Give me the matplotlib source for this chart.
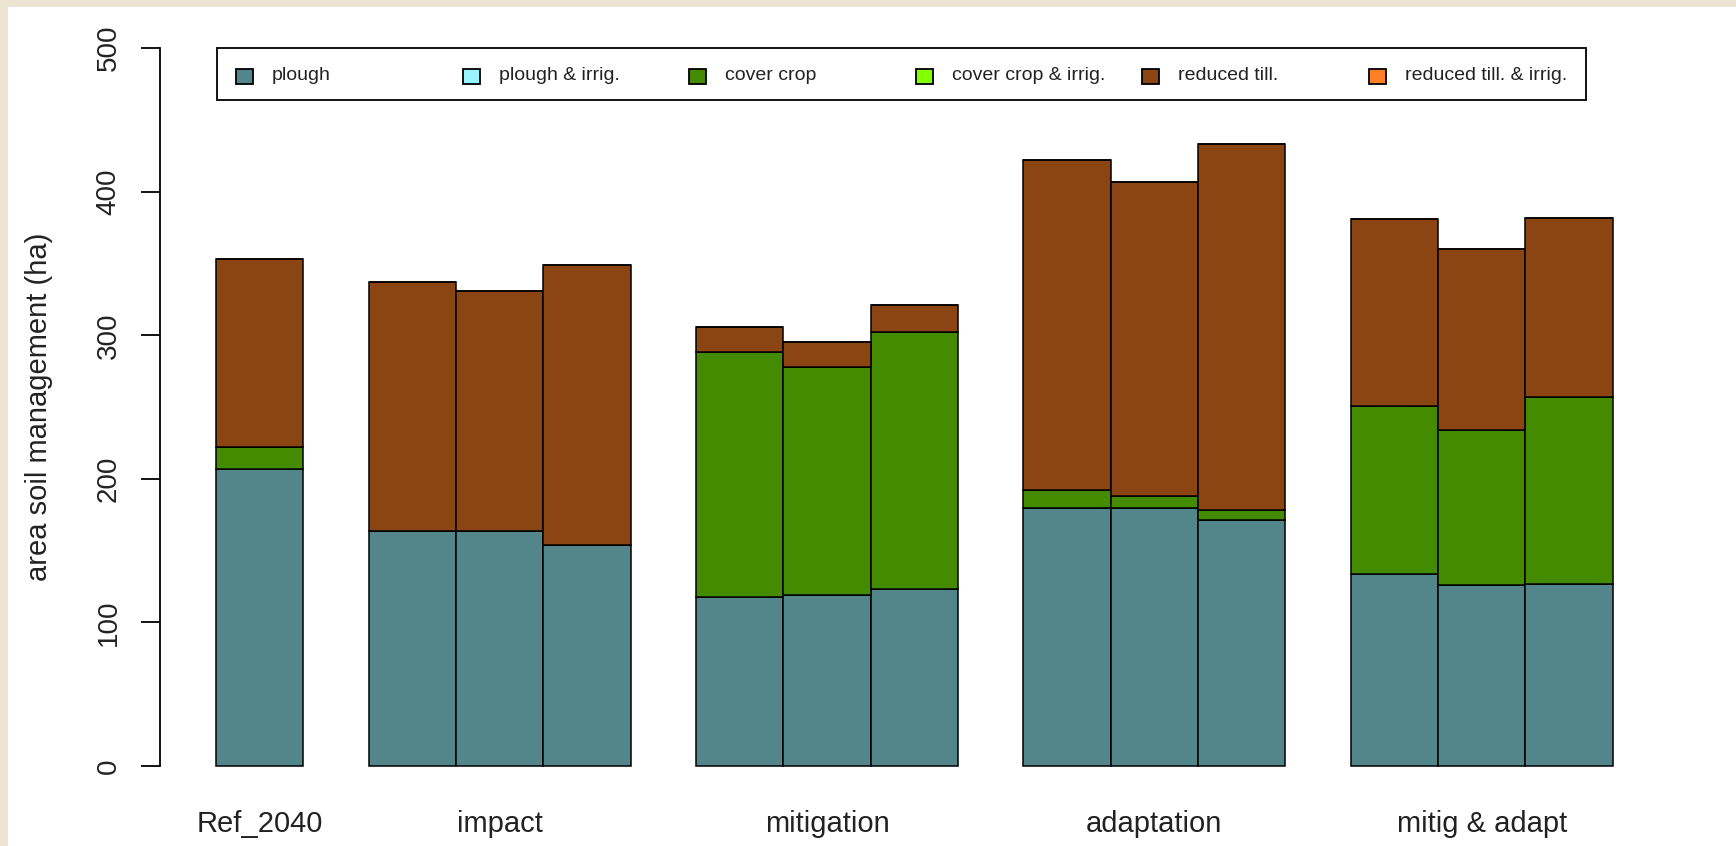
import numpy as np
import matplotlib
matplotlib.use("Agg")
import matplotlib.pyplot as plt
from matplotlib.patches import Rectangle

plt.rcParams['font.family'] = ['Liberation Sans', 'DejaVu Sans']

# scenario groups and number of runs per group
groups = ["Ref_2040", "impact", "mitigation", "adaptation", "mitig & adapt"]
runs_per_group = [1, 3, 3, 3, 3]

# area per management type (ha), one value per bar
plough = [207, 164, 164, 154, 118, 119, 123, 180, 180, 171, 134, 126, 127]
plough_irrig = [0, 0, 0, 0, 0, 0, 0, 0, 0, 0, 0, 0, 0]
cover_crop = [15, 0, 0, 0, 170, 159, 179, 12, 8, 7, 117, 108, 130]
cover_crop_irrig = [0, 0, 0, 0, 0, 0, 0, 0, 0, 0, 0, 0, 0]
reduced_till = [131, 173, 167, 195, 18, 17, 19, 230, 219, 255, 130, 126, 125]
reduced_till_irrig = [0, 0, 0, 0, 0, 0, 0, 0, 0, 0, 0, 0, 0]

series = [plough, plough_irrig, cover_crop, cover_crop_irrig,
          reduced_till, reduced_till_irrig]
labels = ["plough", "plough & irrig.", "cover crop", "cover crop & irrig.",
          "reduced till.", "reduced till. & irrig."]
colors = ["#53868B", "#98F5FF", "#458B00", "#7FFF00", "#8B4513", "#FF7F24"]

# bar layout like R barplot(space=...)
space = []
for n in runs_per_group:
    space += [0.75] + [0.0] * (n - 1)
right = np.cumsum(np.array(space) + 1.0)
left = right - 1.0
centers = left + 0.5
group_centers = []
k = 0
for n in runs_per_group:
    group_centers.append((left[k] + right[k + n - 1]) / 2)
    k += n

fig = plt.figure(figsize=(17.36, 8.46), dpi=100)
fig.patch.set_facecolor("#EDE3D3")
fig.patches.append(Rectangle((8 / 1736, 0), 1, 1 - 7 / 846,
                             transform=fig.transFigure, facecolor="white",
                             edgecolor="none", zorder=-10))

ax = fig.add_axes([0.0922, 0.0606, 0.8689, 0.9165])
ax.set_facecolor("none")

bottom = np.zeros(len(plough))
for vals, col in zip(series, colors):
    vals = np.array(vals, dtype=float)
    ax.bar(centers, vals, width=1.0, bottom=bottom, color=col,
           edgecolor="black", linewidth=1.1)
    bottom += vals

xr = right[-1] - left[0]
ax.set_xlim(left[0] - 0.04 * xr, right[-1] + 0.04 * xr)
ax.set_ylim(-20, 520)

for s in ["top", "right", "bottom"]:
    ax.spines[s].set_visible(False)
ax.spines["left"].set_bounds(0, 500)
ax.spines["left"].set_linewidth(1.3)

ax.set_yticks([0, 100, 200, 300, 400, 500])
ax.set_yticklabels(["0", "100", "200", "300", "400", "500"],
                   rotation=90, va="center", fontsize=20, color="#222222")
ax.tick_params(axis="y", length=13.5, width=1.3, pad=14)

ax.set_xticks(group_centers)
ax.set_xticklabels(groups, fontsize=21, color="#222222")
ax.tick_params(axis="x", length=0, pad=11)

ax.set_ylabel("area soil management (ha)", fontsize=21, color="#222222",
              labelpad=31)

# legend box drawn R-style with equal column widths
lx0, ly0, lw, lh = 217 / 1736, 1 - 100 / 846, 1369 / 1736, 52 / 846
fig.patches.append(Rectangle((lx0, ly0), lw, lh, transform=fig.transFigure,
                             facecolor="white", edgecolor="black",
                             linewidth=1.3, zorder=3))
step = 226.6 / 1736
sq_w, sq_h = 17 / 1736, 15 / 846
for i, (lab, col) in enumerate(zip(labels, colors)):
    sx = 236 / 1736 + i * step
    sy = 1 - 84 / 846
    fig.patches.append(Rectangle((sx, sy), sq_w, sq_h,
                                 transform=fig.transFigure, facecolor=col,
                                 edgecolor="black", linewidth=1.3, zorder=4))
    fig.text(sx + 36 / 1736, 1 - 76 / 846, lab, fontsize=14,
             va="center", ha="left", color="#222222", zorder=5)

fig.savefig("out.png", dpi=100, facecolor=fig.get_facecolor())
